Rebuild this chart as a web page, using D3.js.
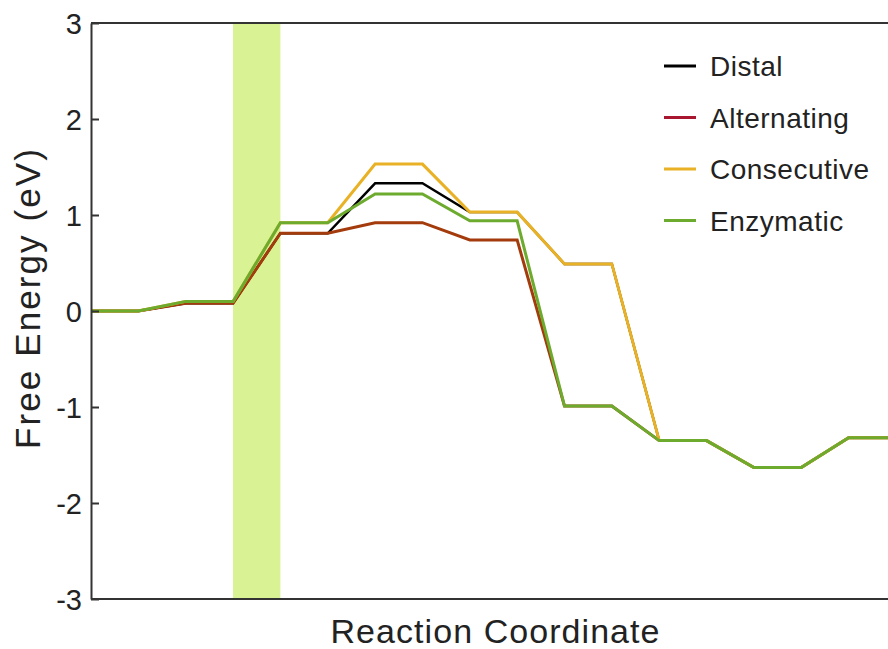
<!DOCTYPE html>
<html>
<head>
<meta charset="utf-8">
<script src="https://cdn.jsdelivr.net/npm/d3@7"></script>
<style>
  body { margin: 0; background: #fff; }
  text { font-family: "Liberation Sans", Arial, sans-serif; fill: #222; }
</style>
</head>
<body>
<script>
var w = 888;
var h = 649;

// Data
var steps = d3.range(18);   // reaction coordinate index
var distal      = [0, 0, 0.08, 0.08, 0.81, 0.81, 1.33, 1.33, 1.03, 1.03, 0.49, 0.49, -1.35, -1.35, -1.63, -1.63, -1.32, -1.32];
var alternating = [0, 0, 0.08, 0.08, 0.81, 0.81, 0.92, 0.92, 0.74, 0.74, -0.99, -0.99, -1.35, -1.35, -1.63, -1.63, -1.32, -1.32];
var consecutive = [0, 0, 0.10, 0.10, 0.92, 0.92, 1.53, 1.53, 1.03, 1.03, 0.49, 0.49, -1.35, -1.35, -1.63, -1.63, -1.32, -1.32];
var enzymatic   = [0, 0, 0.10, 0.10, 0.92, 0.92, 1.22, 1.22, 0.94, 0.94, -0.99, -0.99, -1.35, -1.35, -1.63, -1.63, -1.32, -1.32];
var seriesNames = ["Distal", "Alternating", "Consecutive", "Enzymatic"];
var yTicks = [-3, -2, -1, 0, 1, 2, 3];
var band = [3, 4];  // highlighted step

var lineColors = ["#000000", "#a33b0c", "#e9b125", "#6dab2e"];
var legendColors = ["#000000", "#a8172f", "#e9b125", "#6dab2e"];
var lineWidths = [2.4, 3, 3, 3];
var allSeries = [distal, alternating, consecutive, enzymatic];

var padLeft = 91, padTop = 23, padBottom = 599;

var svg = d3.select("body")
            .append("svg")
            .attr("width", w)
            .attr("height", h);

var xScale = d3.scaleLinear()
               .domain([0, 17])
               .range([padLeft, padLeft + 17 * 47.35]);

var yScale = d3.scaleLinear()
               .domain([-3, 3])
               .range([padBottom, padTop]);

// highlight band
svg.append("rect")
   .attr("x", xScale(band[0]))
   .attr("y", padTop)
   .attr("width", xScale(band[1]) - xScale(band[0]))
   .attr("height", padBottom - padTop)
   .attr("fill", "#d9f293");

// lines
var line = d3.line()
             .x(function(d, i) { return xScale(steps[i]); })
             .y(function(d) { return yScale(d); });

svg.selectAll("path.series")
   .data(allSeries)
   .enter()
   .append("path")
   .attr("class", "series")
   .attr("d", line)
   .attr("fill", "none")
   .attr("stroke", function(d, i) { return lineColors[i]; })
   .attr("stroke-width", function(d, i) { return lineWidths[i]; })
   .attr("stroke-linejoin", "miter");

// frame: top and bottom
svg.append("line")
   .attr("x1", padLeft).attr("x2", w + 10)
   .attr("y1", padTop).attr("y2", padTop)
   .attr("stroke", "#333").attr("stroke-width", 2);
svg.append("line")
   .attr("x1", padLeft).attr("x2", w + 10)
   .attr("y1", padBottom).attr("y2", padBottom)
   .attr("stroke", "#333").attr("stroke-width", 2);

// y axis
var yAxis = d3.axisLeft(yScale)
              .tickValues(yTicks)
              .tickSizeInner(-8)
              .tickSizeOuter(0)
              .tickPadding(9)
              .tickFormat(function(d) { return d < 0 ? "-" + Math.abs(d) : d; });

var gy = svg.append("g")
   .attr("class", "axis")
   .attr("transform", "translate(" + padLeft + ",0)")
   .call(yAxis);
gy.select(".domain").attr("stroke", "#333").attr("stroke-width", 2);
gy.selectAll(".tick line").attr("stroke", "#333").attr("stroke-width", 2);
gy.selectAll(".tick text")
  .attr("font-size", "29px")
  .attr("font-family", "Liberation Sans, Arial, sans-serif")
  .attr("fill", "#222")
  .attr("dy", "0.36em");

// axis titles
svg.append("text")
   .attr("x", 495)
   .attr("y", 643)
   .attr("text-anchor", "middle")
   .attr("font-size", "34px")
   .attr("textLength", 329)
   .attr("lengthAdjust", "spacing")
   .text("Reaction Coordinate");

svg.append("text")
   .attr("transform", "translate(40,299) rotate(-90)")
   .attr("text-anchor", "middle")
   .attr("font-size", "35px")
   .attr("textLength", 300)
   .attr("lengthAdjust", "spacing")
   .text("Free Energy (eV)");

// legend
var legend = svg.selectAll("g.legend")
   .data(seriesNames)
   .enter()
   .append("g")
   .attr("class", "legend")
   .attr("transform", function(d, i) { return "translate(664," + (66 + i * 51.5) + ")"; });

legend.append("line")
   .attr("x1", 0).attr("x2", 32)
   .attr("y1", 0).attr("y2", 0)
   .attr("stroke", function(d, i) { return legendColors[i]; })
   .attr("stroke-width", 3);

legend.append("text")
   .attr("x", 46)
   .attr("y", 10)
   .attr("font-size", "28px")
   .attr("letter-spacing", "0.5px")
   .text(function(d) { return d; });
</script>
</body>
</html>
